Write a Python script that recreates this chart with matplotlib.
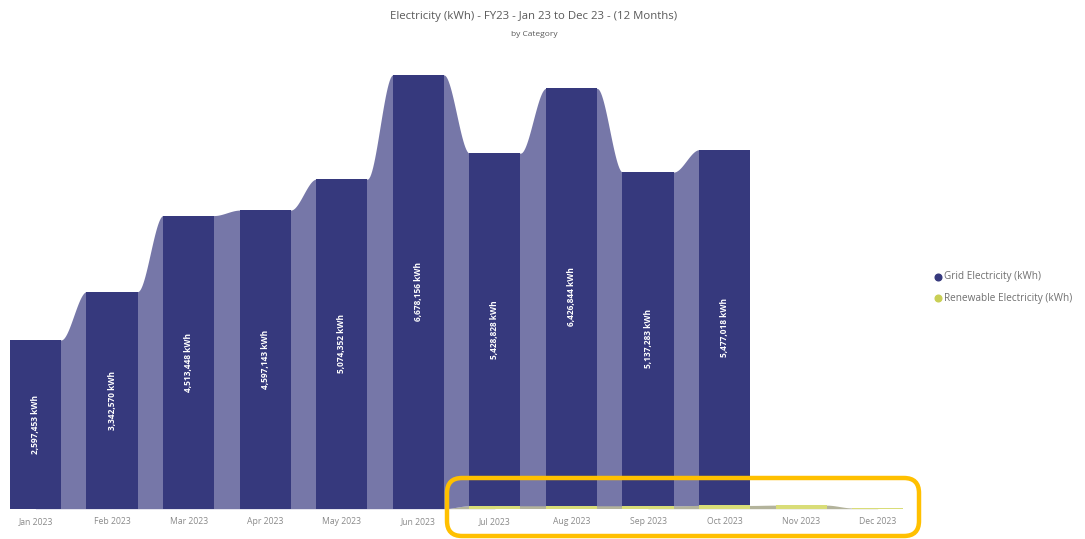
import numpy as np
import matplotlib
matplotlib.use('Agg')
import matplotlib.pyplot as plt
from matplotlib.lines import Line2D
from matplotlib.patches import FancyBboxPatch

plt.rcParams['font.family'] = ['Open Sans', 'DejaVu Sans']

months = ['Jan 2023', 'Feb 2023', 'Mar 2023', 'Apr 2023', 'May 2023', 'Jun 2023',
          'Jul 2023', 'Aug 2023', 'Sep 2023', 'Oct 2023', 'Nov 2023', 'Dec 2023']
grid_kwh = [2597453, 3342570, 4513448, 4597143, 5074352, 6678156,
            5428828, 6426844, 5137283, 5477018, 0, 0]
renew_kwh = [0, 0, 0, 0, 0, 0, 45000, 45000, 45000, 50000, 55000, 12000]

bar_col = '#36397d'
rib_col = '#7677a8'
ren_col = '#d9dd78'
ren_rib = '#b3b39b'

W = 0.667   # bar width in slot units

fig = plt.figure(figsize=(10.85, 5.39), dpi=100, facecolor='white')
ax = fig.add_axes([0, 30.3/539, 916/1085, 448.7/539])
ax.set_xlim(-0.463, 11.5)
ax.set_ylim(0, 6.908e6)

x = np.arange(len(months))
grid = np.array(grid_kwh, dtype=float)
ren = np.array(renew_kwh, dtype=float)
top = grid + ren


def ribbon(i, a, b, n=80):
    # flat under both bars, s-curve across the gap
    xs = np.linspace(x[i], x[i + 1], n)
    t = np.clip((xs - (x[i] + W / 2)) / (1 - W), 0, 1)
    s = t * t * (3 - 2 * t)
    return xs, a + (b - a) * s


# ribbons between neighbouring months
for i in range(len(x) - 1):
    xs, r0 = ribbon(i, ren[i], ren[i + 1])
    if ren[i] > 0 or ren[i + 1] > 0:
        ax.fill_between(xs, 0, r0, color=ren_rib, lw=0, zorder=1)
    if grid[i] > 0 and grid[i + 1] > 0:
        _, t0 = ribbon(i, top[i], top[i + 1])
        ax.fill_between(xs, r0, t0, color=rib_col, lw=0, zorder=1)

# bars
ax.bar(x, ren, width=W, color=ren_col, lw=0, zorder=2)
ax.bar(x, grid, width=W, bottom=ren, color=bar_col, lw=0, zorder=2)

for xi, g, r in zip(x, grid, ren):
    if g > 0:
        ax.text(xi, r + g / 2, f'{int(g):,} kWh', rotation=90, ha='center', va='center',
                color='white', fontsize=6, fontweight='bold', zorder=3)

ax.set_xticks(x)
ax.set_xticklabels(months, fontsize=6.2, color='#8a8a8a')
ax.tick_params(axis='x', length=0, pad=6)
ax.set_yticks([])
for s in ax.spines.values():
    s.set_visible(False)

fig.text(534/1085, 1 - 17/539, 'Electricity (kWh) - FY23 - Jan 23 to Dec 23 - (12 Months)',
         ha='center', va='center', fontsize=8.2, color='#5a5a5a')
fig.text(534/1085, 1 - 35/539, 'by Category', ha='center', va='center',
         fontsize=6, color='#5a5a5a')

# legend
for yy, c, lab in [(277, bar_col, 'Grid Electricity (kWh)'),
                   (298, '#c9cf55', 'Renewable Electricity (kWh)')]:
    fig.add_artist(Line2D([938/1085], [1 - yy/539], marker='o', ms=4.8, color=c,
                          transform=fig.transFigure))
    fig.text(944/1085, 1 - yy/539, lab, ha='left', va='center', fontsize=7.2, color='#707070')

# highlight box around the lower right area
box = FancyBboxPatch((4.47, 0.03), 4.72, 0.58, boxstyle='round,pad=0,rounding_size=0.15',
                     transform=fig.dpi_scale_trans, fill=False, ec='#ffc000', lw=3.2,
                     zorder=10)
fig.patches.append(box)

fig.savefig('out.png', dpi=100, facecolor='white')
